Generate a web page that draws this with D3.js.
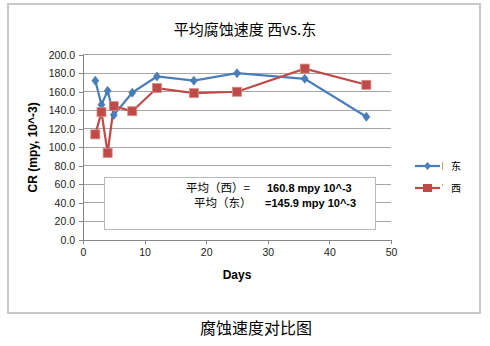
<!DOCTYPE html>
<html><head><meta charset="utf-8">
<script src="https://cdn.jsdelivr.net/npm/d3@7"></script>
<style>body{margin:0;background:#fff}svg{display:block}</style>
</head><body>
<script>
const days = [2, 3, 4, 5, 8, 12, 18, 25, 36, 46];
const eastValues = [172, 146, 161, 135, 159, 176.5, 172, 180, 174, 133];
const westValues = [114, 138, 94, 144.5, 139, 164, 158.5, 160, 185, 167.5];
const seriesNames = ["东", "西"];
const xTicks = [0, 10, 20, 30, 40, 50];
const yTicks = [0, 20, 40, 60, 80, 100, 120, 140, 160, 180, 200];
const avgLabels = ["平均（西）=", "平均（东）"];
const avgValues = ["160.8 mpy 10^-3", "=145.9 mpy 10^-3"];

const W = 490, H = 346;
const svg = d3.select("body").append("svg").attr("width", W).attr("height", H);
const font = "'Liberation Sans', Arial, sans-serif";
const cjk = "'Noto Sans CJK SC', sans-serif";

// frame
svg.append("rect").attr("x", 8).attr("y", 4).attr("width", 472).attr("height", 309)
  .attr("fill", "#fff").attr("stroke", "#c8c8c8").attr("stroke-width", 2);

const x = d3.scaleLinear().domain([0, 50]).range([83, 391]);
const y = d3.scaleLinear().domain([0, 200]).range([240, 54.7]);

// gridlines
svg.append("g").selectAll("line").data(yTicks.filter(d => d > 0)).join("line")
  .attr("x1", x(0)).attr("x2", x(50)).attr("y1", d => y(d)).attr("y2", d => y(d))
  .attr("stroke", "#a6a6a6").attr("stroke-width", 1).attr("shape-rendering", "crispEdges");

// axes
const yAxis = svg.append("g").attr("transform", `translate(${x(0)},0)`)
  .call(d3.axisLeft(y).tickValues(yTicks).tickFormat(d3.format(".1f")).tickSize(4).tickSizeOuter(0));
const xAxis = svg.append("g").attr("transform", `translate(0,${y(0)})`)
  .call(d3.axisBottom(x).tickValues(xTicks).tickSize(4).tickSizeOuter(0));
[yAxis, xAxis].forEach(g => {
  g.selectAll("path,line").attr("stroke", "#868686").attr("shape-rendering", "crispEdges");
  g.selectAll("text").attr("font-family", font).attr("font-size", 10.5).attr("fill", "#222");
});
yAxis.selectAll("text").attr("x", -8);
xAxis.selectAll("text").attr("y", 9);

// axis titles
svg.append("text").attr("x", x(25)).attr("y", 279).attr("text-anchor", "middle")
  .attr("font-family", font).attr("font-weight", "bold").attr("font-size", 12).text("Days");
svg.append("text").attr("transform", `translate(37,${y(100)}) rotate(-90)`).attr("text-anchor", "middle")
  .attr("font-family", font).attr("font-weight", "bold").attr("font-size", 12).text("CR (mpy, 10^-3)");

// title
svg.append("text").attr("x", 245).attr("y", 35).attr("text-anchor", "middle")
  .attr("font-family", cjk).attr("font-size", 15).text("平均腐蚀速度 西vs.东");

// avg box
svg.append("rect").attr("x", 104.5).attr("y", 177.5).attr("width", 271).attr("height", 52)
  .attr("fill", "#fff").attr("stroke", "#b8b8b8").attr("stroke-width", 1);
const lbl = [[186, 192, 267], [194, 207, 265]];
avgLabels.forEach((t, i) => {
  svg.append("text").attr("x", lbl[i][0]).attr("y", lbl[i][1]).attr("font-family", cjk)
    .attr("font-size", 11.5).text(t);
  svg.append("text").attr("x", lbl[i][2]).attr("y", lbl[i][1]).attr("font-family", font)
    .attr("font-weight", "bold").attr("font-size", 11).text(avgValues[i]);
});

// series
const colors = ["#4a7ebb", "#be4b48"];
const line = d3.line().x((d, i) => x(days[i])).y(d => y(d));
[eastValues, westValues].forEach((vals, s) => {
  svg.append("path").datum(vals).attr("d", line).attr("fill", "none")
    .attr("stroke", colors[s]).attr("stroke-width", 2.2);
});
svg.append("g").selectAll("path").data(eastValues).join("path")
  .attr("transform", (d, i) => `translate(${x(days[i])},${y(d)})`)
  .attr("d", "M0,-4.5L3.5,0L0,4.5L-3.5,0Z").attr("fill", colors[0]).attr("stroke", "#3d6fa8").attr("stroke-width", 0.6);
svg.append("g").selectAll("rect").data(westValues).join("rect")
  .attr("x", (d, i) => x(days[i]) - 4.5).attr("y", d => y(d) - 4.5)
  .attr("width", 9).attr("height", 9).attr("fill", colors[1]).attr("stroke", "#d98a88").attr("stroke-width", 0.8);

// legend
const ly = [166, 188];
seriesNames.forEach((n, i) => {
  const g = svg.append("g");
  g.append("line").attr("x1", 415).attr("x2", 440).attr("y1", ly[i]).attr("y2", ly[i])
    .attr("stroke", colors[i]).attr("stroke-width", 2.2);
  if (i === 0) g.append("path").attr("d", `M427.5,${ly[i]-4}L431,${ly[i]}L427.5,${ly[i]+4}L424,${ly[i]}Z`).attr("fill", colors[0]);
  else g.append("rect").attr("x", 423).attr("y", ly[i] - 4).attr("width", 9).attr("height", 8).attr("fill", colors[1]);
  g.append("line").attr("x1", 442.5).attr("x2", 442.5).attr("y1", ly[i] - 4).attr("y2", ly[i] + (i === 0 ? 4 : -2))
    .attr("stroke", "#e0a060").attr("stroke-width", 1);
  g.append("text").attr("x", 451).attr("y", ly[i] + 4).attr("font-family", cjk).attr("font-size", 10).text(n);
});

// caption
svg.append("text").attr("x", 256).attr("y", 334).attr("text-anchor", "middle")
  .attr("font-family", cjk).attr("font-size", 16).text("腐蚀速度对比图");
</script>
</body></html>
